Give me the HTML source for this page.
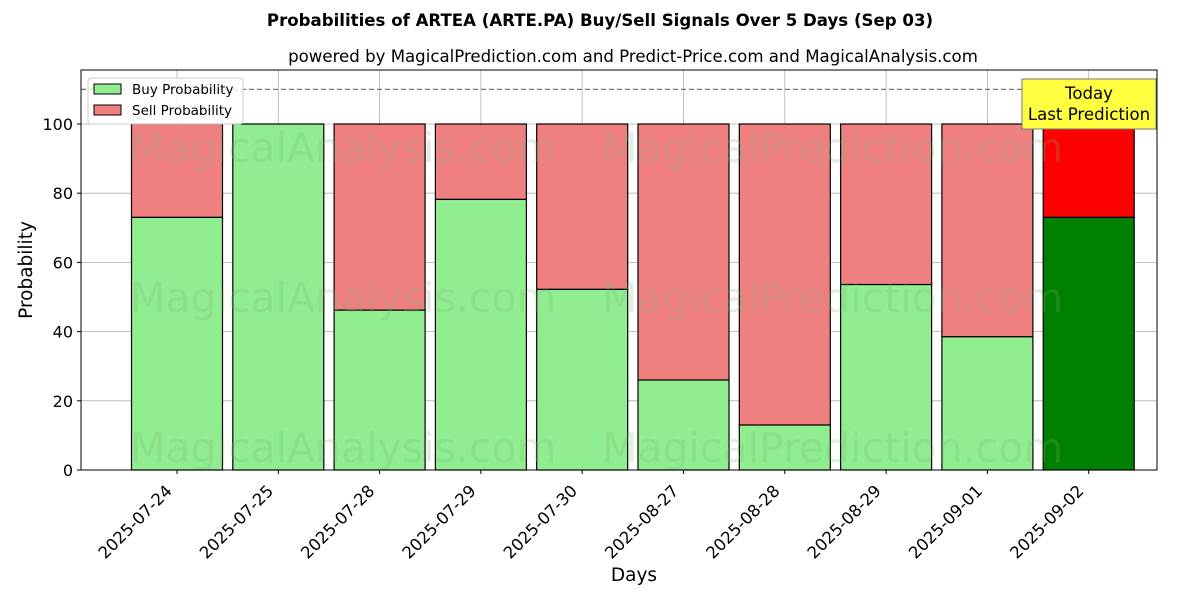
<!DOCTYPE html>
<html><head><meta charset="utf-8"><style>
body{margin:0;background:#fff}
svg text{font-family:"DejaVu Sans","Liberation Sans",sans-serif}
</style></head><body>
<svg id="chart" width="1200" height="600" xmlns="http://www.w3.org/2000/svg">
<text x="600" y="26" text-anchor="middle" font-size="16.6" font-weight="bold">Probabilities of ARTEA (ARTE.PA) Buy/Sell Signals Over 5 Days (Sep 03)</text>
<text x="633" y="62" text-anchor="middle" font-size="16.6">powered by MagicalPrediction.com and Predict-Price.com and MagicalAnalysis.com</text>
<g id="grid"></g>
<g id="bars"></g>
<g id="wm" fill="#80b080" fill-opacity="0.22" font-size="41">
<text x="130" y="162">MagicalAnalysis.com</text>
<text x="602" y="162">MagicalPrediction.com</text>
<text x="130" y="312">MagicalAnalysis.com</text>
<text x="602" y="312">MagicalPrediction.com</text>
<text x="130" y="462">MagicalAnalysis.com</text>
<text x="602" y="462">MagicalPrediction.com</text>
</g>
<g id="axes"></g>
<rect x="81" y="70" width="1076" height="400" fill="none" stroke="#000" stroke-width="1"/>
<text x="634" y="581" text-anchor="middle" font-size="18.5">Days</text>
<text transform="translate(32,270) rotate(-90)" text-anchor="middle" font-size="18.5">Probability</text>
<g>
<rect x="88" y="78" width="155" height="46" rx="3" fill="#fff" fill-opacity="0.8" stroke="#ccc"/>
<rect x="94" y="84" width="27" height="10" fill="#90ee90" stroke="#000"/>
<text x="132" y="94" font-size="13.5">Buy Probability</text>
<rect x="94" y="105" width="27" height="10" fill="#f08080" stroke="#000"/>
<text x="132" y="115" font-size="13.5">Sell Probability</text>
</g>
<g>
<rect x="1022" y="79" width="134" height="50" fill="#ffff40" stroke="#777"/>
<text x="1089" y="99" text-anchor="middle" font-size="16.6">Today</text>
<text x="1089" y="120" text-anchor="middle" font-size="16.6">Last Prediction</text>
</g>
</svg>
<script>
const categories=["2025-07-24","2025-07-25","2025-07-28","2025-07-29","2025-07-30","2025-08-27","2025-08-28","2025-08-29","2025-09-01","2025-09-02"];
const buyValues=[73,100,46.2,78.2,52.2,26,13,53.6,38.5,73];
const yTicks=[0,20,40,60,80,100];
const thresholdValue=110;
const NS="http://www.w3.org/2000/svg";
const L=81,R=1157,T=70,B=470;
const yMax=(B-T)/3.46;
const y=v=>B-v/yMax*(B-T);
const step=101.3, x0=177;
const x=i=>x0+i*step;
const bw=91;
function mk(tag,attrs,parent){const e=document.createElementNS(NS,tag);for(const k in attrs)e.setAttribute(k,attrs[k]);parent.appendChild(e);return e;}
const grid=document.getElementById('grid'),bars=document.getElementById('bars'),axes=document.getElementById('axes');
yTicks.forEach(t=>{
  const g=mk('line',{x1:L,x2:R,y1:y(t),y2:y(t),stroke:'#b0b0b0','stroke-width':0.8},grid);
  
  
  mk('line',{x1:L-4,x2:L,y1:y(t),y2:y(t),stroke:'#000'},axes);
  const tx=mk('text',{x:L-8,y:y(t)+6,'text-anchor':'end','font-size':16},axes);
  tx.textContent=t;
  
  
});
categories.forEach((c,i)=>{
  const gl=mk('line',{x1:x(i),x2:x(i),y1:T,y2:B,stroke:'#b0b0b0','stroke-width':0.8},grid);
  
  
  const last=i===categories.length-1;
  const b=buyValues[i];
  const sell=mk('rect',{x:x(i)-bw/2,y:y(100),width:bw,height:y(b)-y(100),fill:last?'#ff0000':'#f08080',stroke:'#000','stroke-width':1.2},bars);
  
  
  const buy=mk('rect',{x:x(i)-bw/2,y:y(b),width:bw,height:y(0)-y(b),fill:last?'#008000':'#90ee90',stroke:'#000','stroke-width':1.2},bars);
  
  
  mk('line',{x1:x(i),x2:x(i),y1:B,y2:B+4,stroke:'#000'},axes);
  const tx=mk('text',{x:0,y:0,'text-anchor':'end','font-size':16.5,transform:`translate(${x(i)-4},${B+22}) rotate(-45)`},axes);
  tx.textContent=c;
  
  
});
const th=mk('line',{x1:L,x2:R,y1:y(thresholdValue),y2:y(thresholdValue),stroke:'#777','stroke-width':1.2,'stroke-dasharray':'5,3'},axes);


</script>
</body></html>
